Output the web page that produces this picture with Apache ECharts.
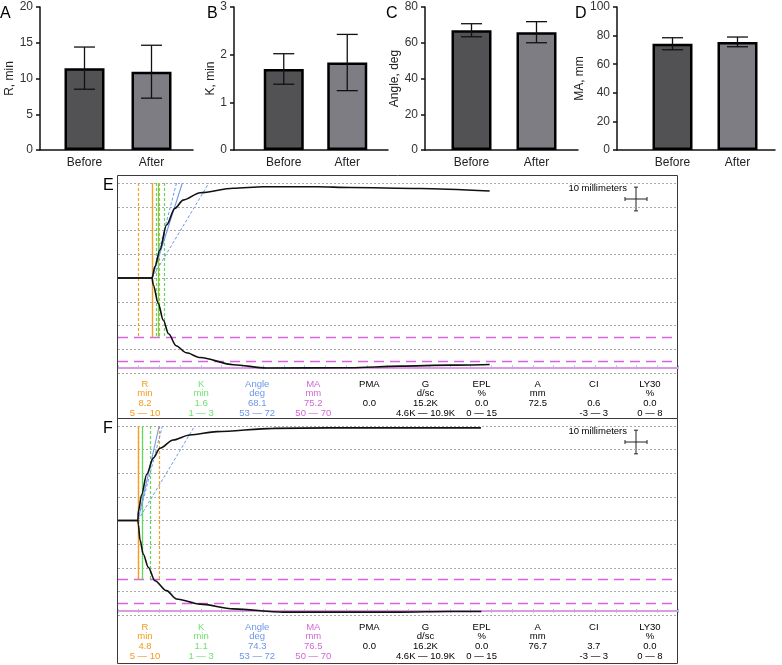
<!DOCTYPE html>
<html><head><meta charset="utf-8">
<script src="https://cdn.jsdelivr.net/npm/echarts@6/dist/echarts.min.js"></script>
<style>html,body{margin:0;padding:0;background:#fff}#c{width:782px;height:665px}</style>
</head><body><div id="c"></div>
<script>
// ================= DATA =================
const groups = ['Before', 'After'];
// Panel A-D : mean and SD
const rMean = [11.45, 10.95];   const rSD = [2.95, 3.7];
const kMean = [1.70, 1.835];    const kSD = [0.32, 0.59];
const angleMean = [67.0, 65.9]; const angleSD = [3.65, 5.9];
const maMean = [74.3, 75.6];    const maSD = [4.2, 3.4];
const axisNames = ['R, min', 'K, min', 'Angle, deg', 'MA, mm'];
const axisMax = [20, 3, 80, 100];
const axisStep = [5, 1, 20, 20];
const panelLetters = ['A', 'B', 'C', 'D'];

// TEG tables
const tegHeaders = ['R', 'K', 'Angle', 'MA', 'PMA', 'G', 'EPL', 'A', 'CI', 'LY30'];
const tegUnits = ['min', 'min', 'deg', 'mm', '', 'd/sc', '%', 'mm', '', '%'];
const tegRanges = ['5 \u2014 10', '1 \u2014 3', '53 \u2014 72', '50 \u2014 70', '', '4.6K \u2014 10.9K', '0 \u2014 15', '', '-3 \u2014 3', '0 \u2014 8'];
const tegValuesE = ['8.2', '1.6', '68.1', '75.2', '0.0', '15.2K', '0.0', '72.5', '0.6', '0.0'];
const tegValuesF = ['4.8', '1.1', '74.3', '76.5', '0.0', '16.2K', '0.0', '76.7', '3.7', '0.0'];
const paramsE = {R: 8.2, K: 1.6, angle: 68.1, MA: 75.2};
const paramsF = {R: 4.8, K: 1.1, angle: 74.3, MA: 76.5};
const rNormal = [5, 10];
const kNormal = [1, 3];
const angleNormal = [53, 72];
const maNormal = [50, 70];

// TEG tracings: [time (min), amplitude (mm)]
const traceUpperE = [[0,0],[8.2,0],[8.9,4.8],[10.1,11.8],[11.7,22.3],[13.7,29.3],[15.7,32.8],[19.8,35.9],[27.8,37.8],[35.0,38.4],[47.9,38.4],[55.9,38.1],[72.8,37.7],[89.6,36.6]];
const traceLowerE = [[0,0],[8.2,0],[8.5,-2.9],[9.7,-10.7],[10.9,-17.7],[12.2,-23.5],[14.0,-28.5],[16.5,-31.5],[19.8,-33.5],[27.8,-36.5],[35.8,-37.9],[55.9,-37.8],[68.0,-37.1],[80.0,-36.7],[89.6,-36.4]];
const traceUpperF = [[0,0],[4.8,0],[4.9,3.9],[5.7,10.9],[6.9,19.4],[8.5,26.4],[10.1,30.6],[13.3,34.1],[17.3,36.2],[23.8,37.6],[37.4,39.0],[51.0,39.2],[68.0,39.2],[87.5,39.2]];
const traceLowerF = [[0,0],[4.8,0],[4.9,-1.6],[5.3,-8.2],[6.1,-14.3],[7.3,-19.8],[8.9,-25.5],[11.7,-29.7],[14.1,-33.2],[19.8,-35.4],[27.8,-37.4],[39.8,-38.8],[68.0,-38.8],[80.0,-38.5],[87.6,-38.5]];

// ================= LAYOUT / STYLE =================
const FONT = 'Liberation Sans';
const barColors = ['#525255', '#7e7d84'];
const panels = [
  {mean: rMean, sd: rSD, axisX: 40, gridLeft: 51, gridW: 134, endX: 193, nameGap: 23, letterX: 0},
  {mean: kMean, sd: kSD, axisX: 234, gridLeft: 252, gridW: 127, endX: 388, nameGap: 15, letterX: 207},
  {mean: angleMean, sd: angleSD, axisX: 425, gridLeft: 439, gridW: 130, endX: 578, nameGap: 22, letterX: 386},
  {mean: maMean, sd: maSD, axisX: 617, gridLeft: 640, gridW: 130, endX: 775, nameGap: 22, letterX: 575}
];
const BAR_TOP = 7, BAR_H = 143;
const tegBoxes = [
  {params: paramsE, values: tegValuesE, up: traceUpperE, low: traceLowerE, gridTop: 183, gridH: 190, boxTop: 175, boxH: 243, letter: 'E', rowY: [384, 393.7, 403.3, 413]},
  {params: paramsF, values: tegValuesF, up: traceUpperF, low: traceLowerF, gridTop: 426, gridH: 189, boxTop: 418, boxH: 245, letter: 'F', rowY: [627, 636.7, 646.5, 656.3]}
];
const TEG_LEFT = 118, TEG_W = 560, T_MAX = 135, Y_LIM = 40;
const ANGLE_SCALE = 2.2;
const colColors = ['#f39a1c', '#6fe36f', '#6c96e8', '#d168d8', '#000', '#000', '#000', '#000', '#000', '#000'];
const C_OR = '#f4a024', C_GR = '#5fd85f', C_BL = '#6d9aea', C_PK = '#d862e0', C_PK2 = '#d99be2';

const grid = [], xAxis = [], yAxis = [], series = [], graphic = [];

// ---- bar panels ----
panels.forEach((p, i) => {
  grid.push({left: p.gridLeft, top: BAR_TOP, width: p.gridW, height: BAR_H, outerBoundsMode: 'none'});
  xAxis.push({type: 'category', gridIndex: i, data: groups, axisLine: {show: false}, axisTick: {show: false},
    axisLabel: {color: '#222', fontSize: 12, fontFamily: FONT, margin: 7}});
  yAxis.push({type: 'value', gridIndex: i, min: 0, max: axisMax[i], interval: axisStep[i],
    offset: p.gridLeft - p.axisX,
    name: axisNames[i], nameLocation: 'middle', nameGap: p.nameGap,
    nameTextStyle: {color: '#222', fontSize: 12, fontFamily: FONT},
    axisLine: {show: true, lineStyle: {color: '#111', width: 1.5}},
    axisTick: {show: true, length: 4, lineStyle: {color: '#111', width: 1.5}},
    axisLabel: {color: '#333', fontSize: 12, fontFamily: FONT, margin: 7},
    splitLine: {show: false}});
  series.push({type: 'bar', xAxisIndex: i, yAxisIndex: i, barWidth: 40, z: 2,
    data: p.mean.map((v, j) => ({value: v, itemStyle: {color: barColors[j]}})),
    itemStyle: {borderColor: '#000', borderWidth: 2.5}});
  series.push({type: 'custom', xAxisIndex: i, yAxisIndex: i, z: 3,
    data: p.mean.map((v, j) => [j, v - p.sd[j], v + p.sd[j]]),
    encode: {x: 0, y: [1, 2]},
    renderItem: (params, api) => {
      const x = api.value(0);
      const a = api.coord([x, api.value(2)]), b = api.coord([x, api.value(1)]);
      const hw = 10.5, st = {stroke: '#111', lineWidth: 1.3};
      return {type: 'group', children: [
        {type: 'line', shape: {x1: a[0], y1: a[1], x2: b[0], y2: b[1]}, style: st},
        {type: 'line', shape: {x1: a[0] - hw, y1: a[1], x2: a[0] + hw, y2: a[1]}, style: st},
        {type: 'line', shape: {x1: b[0] - hw, y1: b[1], x2: b[0] + hw, y2: b[1]}, style: st}
      ]};
    }});
  graphic.push({type: 'text', style: {text: panelLetters[i], x: p.letterX, y: 14, fill: '#000',
    fontSize: 16, fontFamily: FONT, verticalAlign: 'middle'}});
});
// baseline grids (x axis lines spanning from y axis to end)
panels.forEach((p, i) => {
  grid.push({left: p.axisX, top: BAR_TOP, width: p.endX - p.axisX, height: BAR_H, outerBoundsMode: 'none'});
  xAxis.push({type: 'category', gridIndex: 4 + i, data: ['', ''], axisLine: {show: true, onZero: false, lineStyle: {color: '#111', width: 1.5}},
    axisTick: {show: false}, axisLabel: {show: false}});
  yAxis.push({type: 'value', gridIndex: 4 + i, min: 0, max: 1, show: false});
});

// ---- TEG panels ----
tegBoxes.forEach((b, k) => {
  const gi = 8 + k;
  const P = b.params;
  const pxPerMm = b.gridH / (2 * Y_LIM);
  grid.push({left: TEG_LEFT, top: b.gridTop, width: TEG_W, height: b.gridH, outerBoundsMode: 'none'});
  xAxis.push({type: 'value', gridIndex: gi, min: 0, max: T_MAX, interval: 5, position: 'bottom',
    offset: -(Y_LIM - P.MA / 2) * pxPerMm - 2,
    axisLine: {show: false, onZero: false}, axisLabel: {show: false}, splitLine: {show: false},
    axisTick: {show: true, inside: false, length: 4, lineStyle: {color: '#9fc4ee', width: 1}}});
  yAxis.push({type: 'value', gridIndex: gi, min: -Y_LIM, max: Y_LIM, interval: 10,
    axisLine: {show: false}, axisLabel: {show: false}, axisTick: {show: false},
    splitLine: {show: true, lineStyle: {color: '#a9a9a9', type: [2, 2], width: 1}}});

  const bottomV = -maNormal[0] / 2;
  const vert = (x, color, type, w) => [{coord: [x, Y_LIM], lineStyle: {color, type, width: w}}, {coord: [x, bottomV]}];
  const angEnd = (ang) => P.R + Y_LIM / (ANGLE_SCALE * Math.tan(ang * Math.PI / 180));
  const angLine = (ang, color, type, w) => [{coord: [P.R, 0], lineStyle: {color, type, width: w}}, {coord: [angEnd(ang), Y_LIM]}];
  const pinkDash = {color: C_PK, type: [10, 6], width: 1.4, opacity: 1};
  const mlData = [
    [{coord: [0, -maNormal[0] / 2], lineStyle: pinkDash}, {coord: [T_MAX, -maNormal[0] / 2]}],
    [{coord: [0, -maNormal[1] / 2], lineStyle: pinkDash}, {coord: [T_MAX, -maNormal[1] / 2]}],
    [{coord: [0, -P.MA / 2], lineStyle: {color: C_PK2, type: 'solid', width: 2.2}}, {coord: [T_MAX, -P.MA / 2]}],
    vert(rNormal[0], C_OR, [3, 2], 1.2),
    vert(rNormal[1], C_OR, [3, 2], 1.2),
    vert(P.R + kNormal[0], C_GR, [3, 2], 1.2),
    vert(P.R + kNormal[1], C_GR, [3, 2], 1.2),
    vert(P.R, C_OR, 'solid', 1.4),
    vert(P.R + P.K, C_GR, 'solid', 1.2),
    angLine(angleNormal[0], C_BL, [3, 2], 1),
    angLine(angleNormal[1], C_BL, [3, 2], 1),
    angLine(P.angle, C_BL, 'solid', 1.1)
  ];
  series.push({type: 'line', xAxisIndex: gi, yAxisIndex: gi, data: [], z: 2, silent: true,
    markLine: {silent: true, symbol: ['none', 'none'], label: {show: false}, animation: false,
      lineStyle: pinkDash, emphasis: {disabled: true}, data: mlData}});
  [b.up, b.low].forEach(tr => {
    series.push({type: 'line', xAxisIndex: gi, yAxisIndex: gi, data: tr, z: 10, showSymbol: false,
      smooth: 0.3, smoothMonotone: 'x', lineStyle: {color: '#111', width: 1.6}, silent: true});
  });

  // box
  graphic.push({type: 'rect', shape: {x: 117.5, y: b.boxTop + 0.5, width: 560, height: b.boxH},
    style: {fill: 'none', stroke: '#3a3a3a', lineWidth: 1}, z: 1});
  graphic.push({type: 'text', style: {text: b.letter, x: 103, y: b.boxTop + 11, fill: '#000',
    fontSize: 16, fontFamily: FONT, verticalAlign: 'middle'}});
  // scale marker
  graphic.push({type: 'text', style: {text: '10 millimeters', x: 627, y: b.boxTop + 13, fill: '#000',
    fontSize: 9.5, fontFamily: FONT, align: 'right', verticalAlign: 'middle'}});
  const cx = 636, cy = b.boxTop + 24, hv = 5 * pxPerMm, hh = 11;
  const ls = {stroke: '#222', lineWidth: 1};
  graphic.push({type: 'line', shape: {x1: cx, y1: cy - hv, x2: cx, y2: cy + hv}, style: ls});
  graphic.push({type: 'line', shape: {x1: cx - hh, y1: cy, x2: cx + hh, y2: cy}, style: ls});
  graphic.push({type: 'line', shape: {x1: cx - 2, y1: cy - hv, x2: cx + 2, y2: cy - hv}, style: ls});
  graphic.push({type: 'line', shape: {x1: cx - 2, y1: cy + hv, x2: cx + 2, y2: cy + hv}, style: ls});
  graphic.push({type: 'line', shape: {x1: cx - hh, y1: cy - 2, x2: cx - hh, y2: cy + 2}, style: ls});
  graphic.push({type: 'line', shape: {x1: cx + hh, y1: cy - 2, x2: cx + hh, y2: cy + 2}, style: ls});

  // table
  const rows = [tegHeaders, tegUnits, b.values, tegRanges];
  rows.forEach((row, r) => {
    row.forEach((t, c) => {
      if (!t) return;
      graphic.push({type: 'text', style: {text: t, x: 145 + c * 56.1, y: b.rowY[r], fill: colColors[c],
        fontSize: 9.5, fontFamily: FONT, align: 'center', verticalAlign: 'middle'}});
    });
  });
});

const chart = echarts.init(document.getElementById('c'), null, {renderer: 'canvas'});
chart.setOption({animation: false, backgroundColor: '#fff', textStyle: {fontFamily: FONT},
  grid, xAxis, yAxis, series, graphic});
</script></body></html>
